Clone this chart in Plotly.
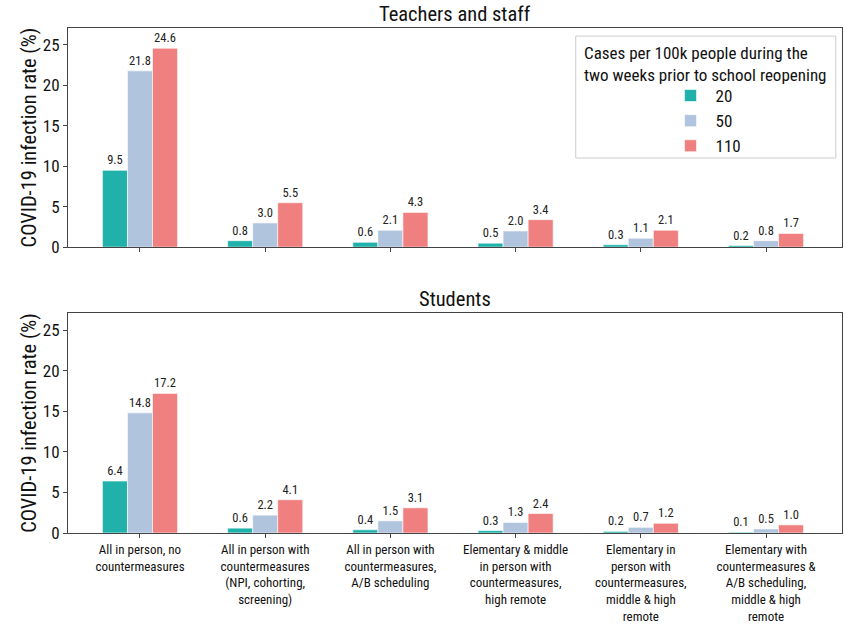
import plotly.graph_objects as go
from plotly.subplots import make_subplots

categories = [
    "All in person, no<br>countermeasures",
    "All in person with<br>countermeasures<br>(NPI, cohorting,<br>screening)",
    "All in person with<br>countermeasures,<br>A/B scheduling",
    "Elementary & middle<br>in person with<br>countermeasures,<br>high remote",
    "Elementary in<br>person with<br>countermeasures,<br>middle & high<br>remote",
    "Elementary with<br>countermeasures &<br>A/B scheduling,<br>middle & high<br>remote",
]
series_names = ["20", "50", "110"]
teachers = {
    "20": [9.5, 0.8, 0.6, 0.5, 0.3, 0.2],
    "50": [21.8, 3.0, 2.1, 2.0, 1.1, 0.8],
    "110": [24.6, 5.5, 4.3, 3.4, 2.1, 1.7],
}
students = {
    "20": [6.4, 0.6, 0.4, 0.3, 0.2, 0.1],
    "50": [14.8, 2.2, 1.5, 1.3, 0.7, 0.5],
    "110": [17.2, 4.1, 3.1, 2.4, 1.2, 1.0],
}
colors = {"20": "#20B2AA", "50": "#B0C4DE", "110": "#F08080"}
yticks = [0, 5, 10, 15, 20, 25]
legend_title = "Cases per 100k people during the<br>two weeks prior to school reopening"

FONT = "Roboto Condensed, Liberation Sans Narrow, Roboto, sans-serif"

fig = make_subplots(rows=2, cols=1, vertical_spacing=0.13,
                    subplot_titles=("Teachers and staff", "Students"))
xs = list(range(len(categories)))
for row, data in ((1, teachers), (2, students)):
    for s in series_names:
        fig.add_trace(go.Bar(
            x=xs, y=data[s], name=s, showlegend=(row == 1),
            marker=dict(color=colors[s], line=dict(color="white", width=0.6)),
            text=[f"{v:.1f}" for v in data[s]], textposition="outside",
            textfont=dict(size=12.5, color="#222"), cliponaxis=False,
        ), row=row, col=1)

axis_common = dict(showline=True, mirror=True, linecolor="#444", linewidth=1,
                   ticks="outside", ticklen=4, tickcolor="#444", showgrid=False,
                   zeroline=False, automargin=False)
fig.update_xaxes(**axis_common, range=[-0.575, 5.607], tickvals=xs)
fig.update_xaxes(showticklabels=False, row=1, col=1)
fig.update_xaxes(ticktext=categories, tickfont=dict(size=13, color="#111"), row=2, col=1)
fig.update_yaxes(**axis_common, range=[0, 27.1], tickvals=yticks,
                 tickfont=dict(size=17, color="#111"),
                 title=dict(text="COVID-19 infection rate (%)", font=dict(size=20.5, color="#111"), standoff=0))
fig.update_layout(
    width=844, height=624,
    margin=dict(l=68, r=2, t=28, b=91),
    plot_bgcolor="white", paper_bgcolor="white",
    font=dict(family=FONT, color="#111"),
    barmode="group", bargap=0.4, bargroupgap=0,
    xaxis=dict(domain=[0, 1]),
    yaxis=dict(domain=[0.566, 1]),
    yaxis2=dict(domain=[0, 0.4356]),
    legend=dict(
        x=0.772, xanchor="left", y=0.901, yanchor="top",
        bgcolor="rgba(0,0,0,0)", borderwidth=0,
        font=dict(size=17), itemwidth=40, tracegroupgap=0,
    ),
    shapes=[dict(type="rect", xref="paper", yref="paper",
                 x0=0.656, x1=0.992, y0=0.7426, y1=0.984,
                 line=dict(color="#cccccc", width=1), fillcolor="rgba(255,255,255,0.8)",
                 layer="above")],
)
for ann in fig.layout.annotations:
    ann.font = dict(size=20.5, color="#111", family=FONT)
fig.layout.annotations[1].y = 0.4356
fig.add_annotation(text=legend_title, xref="paper", yref="paper",
                   x=0.823, y=0.975, xanchor="center", yanchor="top",
                   showarrow=False, align="left", font=dict(size=17, color="#111", family=FONT))
# remove the default 8px page margin so the 844x624 figure fills the window exactly
fig.write_html("out.html", config={"displayModeBar": False},
               post_script="document.body.style.margin='0';document.body.style.overflow='hidden';")
